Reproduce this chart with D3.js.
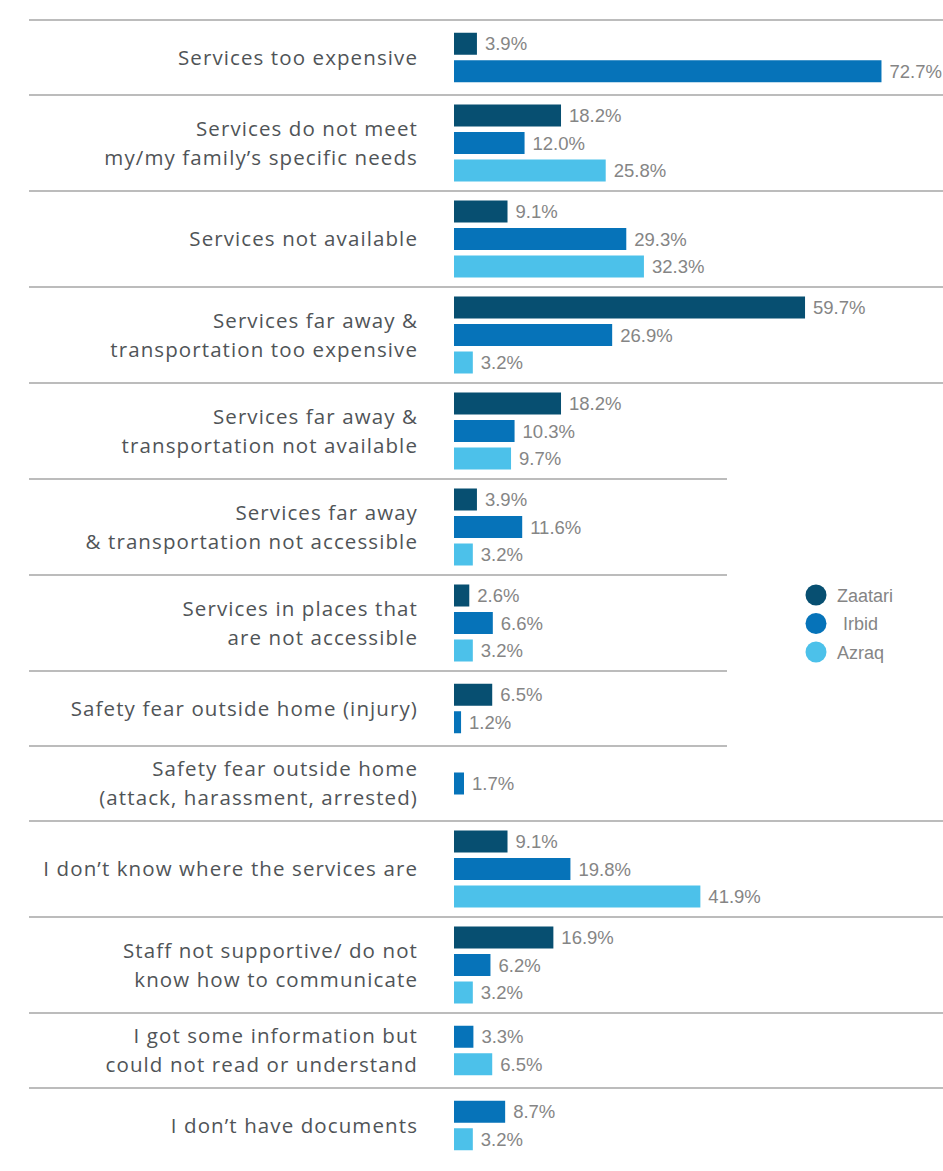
<!DOCTYPE html>
<html>
<head>
<meta charset="utf-8">
<script src="https://cdn.jsdelivr.net/npm/d3@7"></script>
<style>
  html, body { margin: 0; padding: 0; background: #ffffff; }
  svg { display: block; }
</style>
</head>
<body>
<svg id="chart" width="943" height="1171"></svg>
<script>
// ---------- data ----------
const categories = [
  "Services too expensive",
  "Services do not meet\nmy/my family’s specific needs",
  "Services not available",
  "Services far away &\ntransportation too expensive",
  "Services far away &\ntransportation not available",
  "Services far away\n& transportation not accessible",
  "Services in places that\nare not accessible",
  "Safety fear outside home (injury)",
  "Safety fear outside home\n(attack, harassment, arrested)",
  "I don’t know where the services are",
  "Staff not supportive/ do not\nknow how to communicate",
  "I got some information but\ncould not read or understand",
  "I don’t have documents"
];
const seriesNames = ["Zaatari", "Irbid", "Azraq"];
const zaatari = [3.9, 18.2, 9.1, 59.7, 18.2, 3.9, 2.6, 6.5, null, 9.1, 16.9, null, null];
const irbid   = [72.7, 12.0, 29.3, 26.9, 10.3, 11.6, 6.6, 1.2, 1.7, 19.8, 6.2, 3.3, 8.7];
const azraq   = [null, 25.8, 32.3, 3.2, 9.7, 3.2, 3.2, null, null, 41.9, 3.2, 6.5, 3.2];

// ---------- styles / layout ----------
const colors = ["#074f71", "#0673b9", "#4cc1ea"];
const W = 943, H = 1171;
const topY = 20;
const barX0 = 454, pxPerPct = 5.88;
const labelRight = 417;
const lineLeft = 29, lineRightShort = 727;
const rowHeight3 = 96, rowHeightFew = 75;
const barStep = 27.5;
const legendX = 816, legendY = 595, legendStep = 28.5;

const svg = d3.select("#chart");
svg.append("rect").attr("width", W).attr("height", H).attr("fill", "#fff");

const seriesValues = [zaatari, irbid, azraq];
const rows = categories.map((c, i) => {
  const bars = seriesNames.map((s, k) => ({ series: s, k, value: seriesValues[k][i] }))
    .filter(d => d.value !== null && d.value !== undefined);
  return { label: c, bars };
});

// cumulative row positions
let yAcc = topY;
rows.forEach(r => {
  r.y0 = yAcc;
  r.h = r.bars.length >= 3 ? rowHeight3 : rowHeightFew;
  yAcc += r.h;
  r.y1 = yAcc;
  r.cy = (r.y0 + r.y1) / 2;
});

const x = d3.scaleLinear().domain([0, 100]).range([barX0, barX0 + 100 * pxPerPct]);

// separator lines
const shortAfter = new Set([4, 5, 6, 7]);
const seps = [{ y: topY, short: false }].concat(
  rows.slice(0, rows.length - 1).map((r, i) => ({ y: r.y1, short: shortAfter.has(i) }))
);
svg.append("g").selectAll("line").data(seps).join("line")
  .attr("x1", lineLeft).attr("x2", d => d.short ? lineRightShort : W)
  .attr("y1", d => d.y).attr("y2", d => d.y)
  .attr("stroke", "#a6a6a6").attr("stroke-width", 1.5);

// groups
const g = svg.append("g").selectAll("g").data(rows).join("g");

g.each(function (r) {
  const grp = d3.select(this);
  const n = r.bars.length;
  const y = d3.scaleBand()
    .domain(r.bars.map(b => b.series))
    .range([r.cy - n * barStep / 2, r.cy + n * barStep / 2])
    .paddingInner(0.2).paddingOuter(0.1);

  grp.selectAll("rect").data(r.bars).join("rect")
    .attr("x", x(0))
    .attr("y", b => y(b.series))
    .attr("width", b => x(b.value) - x(0))
    .attr("height", y.bandwidth())
    .attr("fill", b => colors[b.k]);

  grp.selectAll("text.val").data(r.bars).join("text")
    .attr("class", "val")
    .attr("x", b => x(b.value) + 8)
    .attr("y", b => y(b.series) + y.bandwidth() / 2 + 6.5)
    .attr("font-family", "'Liberation Sans', Arial, sans-serif")
    .attr("font-size", 18.5)
    .attr("fill", "#858585")
    .text(b => b.value.toFixed(1) + "%");

  const lines = r.label.split("\n");
  const t = grp.append("text")
    .attr("text-anchor", "end")
    .attr("font-family", "'Open Sans', sans-serif")
    .attr("font-size", 20.5)
    .attr("letter-spacing", 1.1)
    .attr("font-weight", 500)
    .attr("fill", "#505457");
  lines.forEach((ln, i) => {
    t.append("tspan")
      .attr("x", labelRight + 1)
      .attr("y", r.cy + 7 + (i - (lines.length - 1) / 2) * 29)
      .text(ln);
  });
});

// legend
const leg = svg.append("g").selectAll("g").data(seriesNames).join("g")
  .attr("transform", (d, i) => `translate(${legendX},${legendY + i * legendStep})`);
leg.append("circle").attr("r", 10.5).attr("fill", (d, i) => colors[i]);
leg.append("text")
  .attr("x", (d, i) => i === 1 ? 27 : 21).attr("y", 6.5)
  .attr("font-family", "'Liberation Sans', Arial, sans-serif")
  .attr("font-size", 18)
  .attr("fill", "#858585")
  .text(d => d);
</script>
</body>
</html>
